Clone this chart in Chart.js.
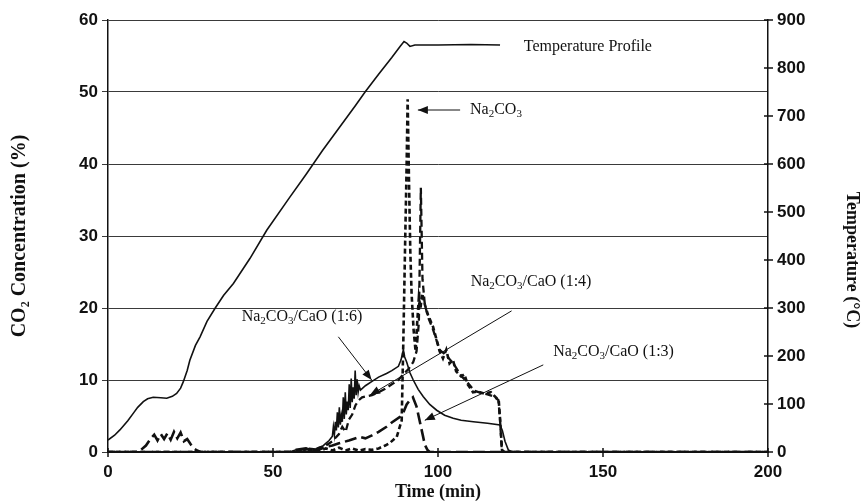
<!DOCTYPE html>
<html><head><meta charset="utf-8">
<script src="https://cdn.jsdelivr.net/npm/chart.js@4.4.1/dist/chart.umd.min.js"></script>
<style>html,body{margin:0;padding:0;background:#fff;}</style>
</head><body>
<canvas id="c" width="864" height="501"></canvas>
<script>
// ---------- data ----------
const tempTime = [0,2,3.6,6,7.7,9,10.7,12,13.7,16,17.8,19.5,20.8,22,22.8,24,24.8,26.5,27.9,30,32.4,35,38,43,48.1,55,60,65,70,75,77.9,82,86,88.5,89.7,90.5,91.5,93,100,110,118.8];
const tempValue = [25,35,46,65,81,93,105,111,114,113,112,116,122,133,146,170,191,222,240,272,299,326,351,403,462,530,578,628,675,722,750,787,822,845,855,852,845,848,848,849,848];

const naTime = [0,60,62,64,66,68,70,72,74,76,78,80,82,84,85.5,87.5,89,89.5,90,90.5,90.8,91.2,91.6,92,92.6,93.2,93.7,94.2,94.7,95.2,96,97,98.5,100.5,101.5,102.5,103.5,104.5,105.5,107,108,109,110.6,112,114,116,117.5,118.4,118.9,119.4,120,200];
const naValue = [0,0,0.3,0.1,0.5,0.2,0.6,0.2,0.5,0.2,0.4,0.3,0.5,0.9,1.3,2.1,4.4,15.5,28,40,49,38,28,22,17,14,18,21.5,20,22,20.5,19,17.4,14,13,14.2,12.3,12.8,11.2,10.5,10.8,9.4,8.3,8.4,8.1,8.3,7.6,7.2,4,0.3,0,0];

const r16Time = [0,55,57,59,61,63,65,66,67,68,68.3,68.6,68.9,69.2,69.5,69.8,70.1,70.4,70.7,71,71.3,71.6,71.9,72.2,72.5,72.8,73.1,73.4,73.7,74,74.3,74.6,74.9,75.2,75.5,75.8,76.1,76.5,77,78,80,82,84.4,86,88,88.8,89.5,89.9,90.5,91.5,92.5,94,95.5,97.5,99.6,102,104.6,107,110.7,115,118.8,119.5,120.3,121.3,122.5,200];
const r16Value = [0,0,0.3,0.1,0.5,0.4,0.8,1.2,1.6,2.2,3.5,2.4,4.2,3.0,5.5,3.4,6.2,3.8,5.1,4.2,7.6,4.6,8.3,5.2,7.0,5.8,9.4,6.1,10.2,6.9,9.0,7.4,11.3,7.9,10.1,8.3,9.2,8.6,8.8,9.2,9.8,10.4,10.9,11.3,11.9,12.8,14.2,13.2,12.5,11,10,8.7,7.7,6.6,5.8,5.1,4.7,4.4,4.2,4,3.75,3,1.5,0.3,0,0];

const r14Time = [0,58,60,62,64,66,68,70,71,72,73,74,75,76,77,78,80,82,84,86,88,89.5,91,92.5,93.5,94.2,94.8,95.3,96,97,98.5,100.5,102.5,104.5,107,109,111,113,115,117,118.3,118.8,119.3,120,200];
const r14Value = [0,0,0.4,0.2,0.6,0.9,1.5,2.5,3.5,2.8,4.5,5.2,6.5,7.2,7.6,7.7,7.9,8.3,8.8,9.4,10,10.8,11.5,12.5,14,18,36.7,24,20.5,18.7,17,14.2,13.4,12.4,10.6,9.6,8.5,8.2,8,7.7,7.2,4.5,0.4,0,0];

const r13Time = [0,9,10,11.5,13,14,15,16,17,18,19,20,21,22,23,24,25,26,27,28,55,57,60,63,66,68,70,73,76.4,78,80,82,84.4,86,88.5,89.5,90.5,91.5,92.4,93.5,94.5,95.5,96,96.8,97.5,200];
const r13Value = [0,0,0.3,0.9,1.9,2.4,1.6,2.5,1.8,2.6,1.7,2.8,1.9,2.7,1.5,1.8,1.1,0.5,0.2,0,0,0.3,0.5,0.2,0.7,0.9,1.2,1.6,2.1,1.9,2.3,2.8,3.5,4.1,4.9,5.5,6.6,7.2,7.6,6.3,4.2,2.1,1.0,0.3,0,0];

const xTicks = [0,50,100,150,200];
const leftTicks = [0,10,20,30,40,50,60];
const rightTicks = [0,100,200,300,400,500,600,700,800,900];

// ---------- annotations (text + arrows, placed in data units) ----------
const notes = [
  {text:'Temperature Profile', t:126, v:56.25},
  {text:'Na_2CO_3', t:109.7, v:47.5, arrow:[106.7,47.5,93.9,47.5]},
  {text:'Na_2CO_3/CaO (1:6)', t:40.5, v:18.75, arrow:[69.8,16,79.9,10]},
  {text:'Na_2CO_3/CaO (1:4)', t:109.9, v:23.6, arrow:[122.3,19.6,79.4,7.9]},
  {text:'Na_2CO_3/CaO (1:3)', t:134.9, v:13.9, arrow:[131.9,12.1,96,4.4]}
];
const rightTitle = 'Temperature (°C)';

const pts = (ts, vs) => ts.map((t, i) => ({x: t, y: vs[i]}));
const INK = '#111';

function drawRich(ctx, str, x, y) {
  const parts = str.split(/(_\d)/);
  let cx = x;
  for (const p of parts) {
    if (!p) continue;
    if (p[0] === '_') {
      ctx.font = '11px "Liberation Serif"';
      ctx.fillText(p[1], cx, y + 4);
      cx += ctx.measureText(p[1]).width;
    } else {
      ctx.font = '16px "Liberation Serif"';
      ctx.fillText(p, cx, y);
      cx += ctx.measureText(p).width;
    }
  }
}

const annotPlugin = {
  id: 'annot',
  afterDraw(chart) {
    const {ctx, scales} = chart;
    const xs = scales.x, ys = scales.y, y2 = scales.y2;
    ctx.save();
    ctx.strokeStyle = INK; ctx.fillStyle = INK; ctx.lineWidth = 1.5;
    rightTicks.forEach(v => {
      const py = y2.getPixelForValue(v);
      ctx.beginPath(); ctx.moveTo(y2.left - 4, py); ctx.lineTo(y2.left + 5, py); ctx.stroke();
    });
    xTicks.forEach(v => {
      const px = xs.getPixelForValue(v);
      ctx.beginPath(); ctx.moveTo(px, xs.top - 4); ctx.lineTo(px, xs.top + 5); ctx.stroke();
    });
    ctx.textBaseline = 'middle'; ctx.textAlign = 'left';
    notes.forEach(n => {
      drawRich(ctx, n.text, xs.getPixelForValue(n.t), ys.getPixelForValue(n.v));
      if (n.arrow) {
        const [t1, v1, t2, v2] = n.arrow;
        const x1 = xs.getPixelForValue(t1), yy1 = ys.getPixelForValue(v1);
        const x2 = xs.getPixelForValue(t2), yy2 = ys.getPixelForValue(v2);
        ctx.lineWidth = 1;
        ctx.beginPath(); ctx.moveTo(x1, yy1); ctx.lineTo(x2, yy2); ctx.stroke();
        const a = Math.atan2(yy2 - yy1, x2 - x1), L = 10, W = 4;
        ctx.beginPath();
        ctx.moveTo(x2, yy2);
        ctx.lineTo(x2 - L*Math.cos(a) + W*Math.sin(a), yy2 - L*Math.sin(a) - W*Math.cos(a));
        ctx.lineTo(x2 - L*Math.cos(a) - W*Math.sin(a), yy2 - L*Math.sin(a) + W*Math.cos(a));
        ctx.closePath(); ctx.fill();
      }
    });
    // right axis title, reading top to bottom
    ctx.translate(y2.right - 12, (y2.top + y2.bottom) / 2 + 24);
    ctx.rotate(Math.PI / 2);
    ctx.textAlign = 'center'; ctx.textBaseline = 'middle';
    ctx.font = 'bold 18px "Liberation Serif"';
    ctx.fillText(rightTitle, 0, 0);
    ctx.restore();
  }
};

const tickFont = {family: '"Liberation Sans", Arial, sans-serif', size: 17, weight: 'bold'};
const titleFont = {family: '"Liberation Serif", "Times New Roman", serif', size: 18, weight: 'bold', lineHeight: 1};

new Chart(document.getElementById('c'), {
  type: 'line',
  data: {
    datasets: [
      {label: 'Temperature Profile', data: pts(tempTime, tempValue), yAxisID: 'y2', borderColor: INK, borderWidth: 1.6},
      {label: 'Na2CO3/CaO (1:6)', data: pts(r16Time, r16Value), yAxisID: 'y', borderColor: INK, borderWidth: 1.6},
      {label: 'Na2CO3/CaO (1:3)', data: pts(r13Time, r13Value), yAxisID: 'y', borderColor: INK, borderWidth: 2.6, borderDash: [12, 5]},
      {label: 'Na2CO3/CaO (1:4)', data: pts(r14Time, r14Value), yAxisID: 'y', borderColor: INK, borderWidth: 2.3, borderDash: [7, 4]},
      {label: 'Na2CO3', data: pts(naTime, naValue), yAxisID: 'y', borderColor: INK, borderWidth: 2.6, borderDash: [5, 3]}
    ]
  },
  options: {
    responsive: false, animation: false, devicePixelRatio: 1,
    layout: {padding: {top: 20, left: 0, right: 0, bottom: 0}},
    elements: {point: {radius: 0}, line: {tension: 0, fill: false}},
    plugins: {legend: {display: false}, tooltip: {enabled: false}},
    scales: {
      x: {
        type: 'linear', min: 0, max: 200,
        afterBuildTicks: s => { s.ticks = xTicks.map(v => ({value: v})); },
        grid: {display: false, drawTicks: false},
        border: {display: true, color: INK, width: 2},
        ticks: {font: tickFont, color: INK, padding: 10, maxRotation: 0},
        title: {display: true, text: 'Time (min)', font: titleFont, color: INK, padding: {top: 0, bottom: 0}},
        afterFit: s => { s.height = 49; }
      },
      y: {
        position: 'left', min: 0, max: 60,
        afterBuildTicks: s => { s.ticks = leftTicks.map(v => ({value: v})); },
        grid: {color: '#3a3a3a', lineWidth: 1, tickLength: 6, drawTicks: true},
        border: {display: true, color: INK, width: 1.5},
        ticks: {font: tickFont, color: INK, padding: 4},
        title: {display: true, text: 'CO₂ Concentration (%)', font: {family: '"Liberation Serif", serif', size: 20, weight: 'bold', lineHeight: 1}, color: INK, padding: {top: 10, bottom: 0}},
        afterFit: s => { s.width = 108; }
      },
      y2: {
        position: 'right', min: 0, max: 900,
        afterBuildTicks: s => { s.ticks = rightTicks.map(v => ({value: v})); },
        grid: {display: false, drawTicks: false},
        border: {display: true, color: INK, width: 1.5},
        ticks: {font: tickFont, color: INK, padding: 9},
        title: {display: false},
        afterFit: s => { s.width = 96; }
      }
    }
  },
  plugins: [annotPlugin]
});
</script>
</body></html>
